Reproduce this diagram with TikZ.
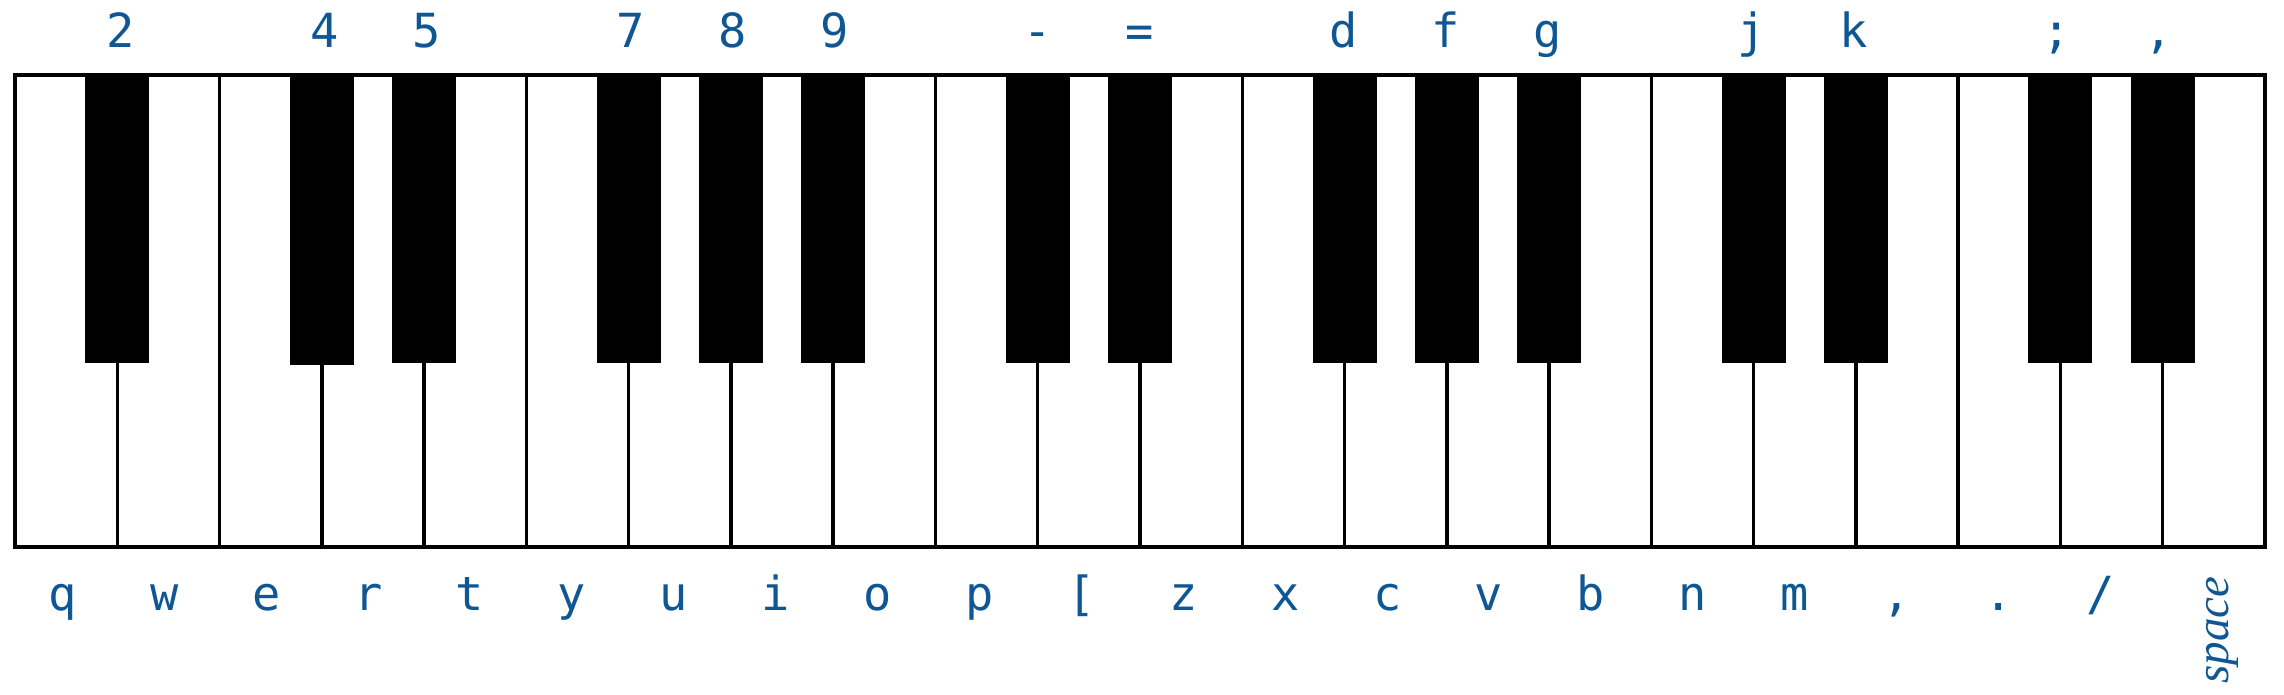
\documentclass[tikz,border=0pt]{standalone}
\usepackage{fontspec}
\newfontfamily\keyfont{DejaVu Sans Mono}
\newfontfamily\spacefont{Liberation Serif}
\definecolor{keyblue}{RGB}{14,87,148}
\begin{document}
\begin{tikzpicture}[x=1pt,y=-1pt,
  lab/.style={anchor=base,inner sep=0pt,text=keyblue,font=\keyfont\fontsize{47}{50}\selectfont},
  spacelab/.style={anchor=base,inner sep=0pt,text=keyblue,rotate=90,font=\spacefont\itshape\fontsize{47}{50}\selectfont},
  blackkey/.style={fill=black,draw=none},
  divider/.style={draw=black,line width=3.5pt},
  rail/.style={draw=black,line width=4.5pt,line cap=rect}]
\fill[white] (0,0) rectangle (2284,694);
\useasboundingbox (0,0) rectangle (2284,694);
% full-height dividers
\foreach \b in {2,5,9,12,16,19}{
  \draw[divider] ({15+102.27*\b},75) -- ({15+102.27*\b},547);
}
% lower dividers under black keys
\foreach \b in {1,3,4,6,7,8,10,11,13,14,15,17,18,20,21}{
  \draw[divider] ({15+102.27*\b},360) -- ({15+102.27*\b},547);
}
% black keys
\foreach \b in {1,4,6,7,8,10,11,13,14,15,17,18,20,21}{
  \fill[blackkey] ({15+102.27*\b-32},75) rectangle ({15+102.27*\b+32},363);
}
\fill[blackkey] ({15+102.27*3-32},75) rectangle ({15+102.27*3+32},365);
% frame
\draw[divider] (15,75) -- (15,547);
\draw[divider] (2265,75) -- (2265,547);
\draw[rail] (15,75) -- (2265,75);
\draw[rail] (15,547) -- (2265,547);
% top labels
\foreach \b/\t in {1/2,3/4,4/5,6/7,7/8,8/9,10/-,11/=,13/d,14/f,15/g,17/j,18/k,20/;,21/{,}}{
  \node[lab] (top\b) at ({121+101.9*(\b-1)},47) {\t};
}
% bottom labels
\foreach \k/\t in {0/q,1/w,2/e,3/r,4/t,5/y,6/u,7/i,8/o,9/p,10/[,11/z,12/x,13/c,14/v,15/b,16/n,17/m,18/{,},19/.,20/{/}}{
  \node[lab] (bot\k) at ({62.5+101.9*\k},610) {\t};
}
\node[spacelab] (space) at (2228,630) {space};
\end{tikzpicture}
\end{document}
